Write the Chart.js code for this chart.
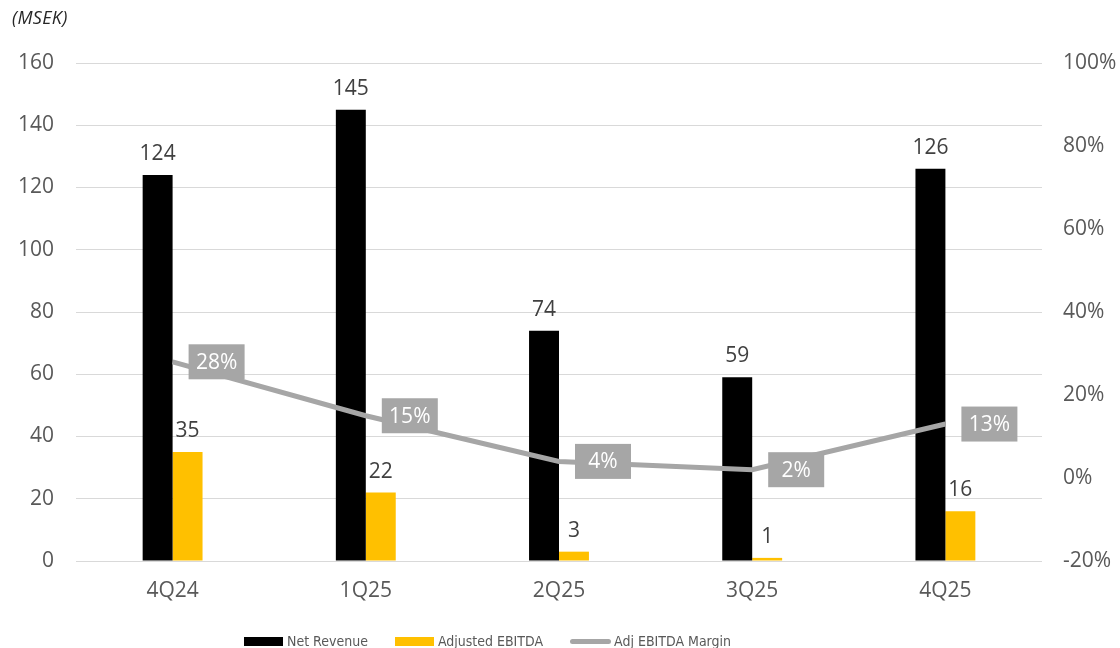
<!DOCTYPE html>
<html>
<head>
<meta charset="utf-8">
<script src="https://cdn.jsdelivr.net/npm/chart.js@4.4.1/dist/chart.umd.min.js"></script>
<style>
  html,body{ margin:0; padding:0; background:#fff; }
  #wrap{ position:relative; width:1120px; height:648px; overflow:hidden; }
  #chart{ position:absolute; left:0; top:0; }
  .unit{ position:absolute; left:12px; top:5px; font:italic 18px "Open Sans", sans-serif; color:#262626; letter-spacing:0.3px; }
  .legend{ position:absolute; left:244px; top:633px; display:flex; align-items:center;
           font:14px "DejaVu Sans Condensed", "DejaVu Sans", sans-serif; color:#595959; white-space:nowrap; }
  .legend-item{ display:flex; align-items:center; margin-right:27px; }
  .legend-box{ display:inline-block; width:39px; height:9px; margin-right:4px; }
  .legend-line{ display:inline-block; width:41px; height:5px; border-radius:3px; margin-right:3px; }
</style>
</head>
<body>
<div id="wrap">
  <canvas id="chart" width="1120" height="648"></canvas>
  <div class="unit">(MSEK)</div>
  <div class="legend" id="legend"></div>
</div>
<script>
// ── DATOS ───────────────────────────────────────────────
const quarters   = ['4Q24','1Q25','2Q25','3Q25','4Q25'];
const netRevenue = [124, 145, 74, 59, 126];
const adjEbitda  = [35, 22, 3, 1, 16];
const ebitdaMargin = [28, 15, 4, 2, 13];   // %
const leftTicks  = [0, 20, 40, 60, 80, 100, 120, 140, 160];
const rightTicks = [-20, 0, 20, 40, 60, 80, 100];

const COLORS = { revenue:'#000000', ebitda:'#ffc000', margin:'#a6a6a6', text:'#595959', grid:'#d9d9d9' };
const TICK_FONT = { family:'"Open Sans", sans-serif', size:21 };

// ── ETIQUETAS DE VALOR ──────────────────────────────────
const valueLabels = {
  id:'valueLabels',
  afterDatasetsDraw(chart){
    const ctx = chart.ctx;
    ctx.save();
    chart.data.datasets.forEach((ds,i)=>{
      const meta = chart.getDatasetMeta(i);
      meta.data.forEach((el,j)=>{
        if(ds.type==='line'){
          const w=56, h=35, cx=el.x+44, cy=el.y;
          ctx.fillStyle = COLORS.margin;
          ctx.fillRect(cx-w/2, cy-h/2, w, h);
          ctx.fillStyle = '#ffffff';
          ctx.font = '21px "Open Sans", sans-serif';
          ctx.textAlign = 'center';
          ctx.textBaseline = 'middle';
          ctx.fillText(ds.data[j]+'%', cx, cy+1);
        } else {
          ctx.fillStyle = '#404040';
          ctx.font = '21px "Open Sans", sans-serif';
          ctx.textAlign = 'center';
          ctx.textBaseline = 'alphabetic';
          ctx.fillText(String(ds.data[j]), el.x, el.y-15);
        }
      });
    });
    ctx.restore();
  }
};

// ── GRÁFICO ─────────────────────────────────────────────
new Chart(document.getElementById('chart'), {
  type:'bar',
  data:{
    labels: quarters,
    datasets:[
      { label:'Net Revenue', data:netRevenue, backgroundColor:COLORS.revenue, yAxisID:'y',
        categoryPercentage:0.31, barPercentage:1, order:2 },
      { label:'Adjusted EBITDA', data:adjEbitda, backgroundColor:COLORS.ebitda, yAxisID:'y',
        categoryPercentage:0.31, barPercentage:1, order:2 },
      { type:'line', label:'Adj EBITDA Margin', data:ebitdaMargin, yAxisID:'y1',
        borderColor:COLORS.margin, borderWidth:5, pointRadius:0, tension:0, order:1 }
    ]
  },
  options:{
    responsive:false,
    animation:false,
    layout:{ padding:{ top:63, left:0, right:0, bottom:0 } },
    plugins:{ legend:{ display:false }, tooltip:{ enabled:false } },
    scales:{
      x:{
        grid:{ display:false, drawTicks:false },
        border:{ display:false },
        ticks:{ color:COLORS.text, font:TICK_FONT, padding:17 },
        afterFit(s){ s.height = 87; }
      },
      y:{
        position:'left', min:0, max:160,
        afterBuildTicks(s){ s.ticks = leftTicks.map(v=>({ value:v })); },
        grid:{ color:COLORS.grid, lineWidth:1, drawTicks:false },
        border:{ display:false },
        ticks:{ color:COLORS.text, font:TICK_FONT, padding:22 },
        afterFit(s){ s.width = 76; }
      },
      y1:{
        position:'right', min:-20, max:100,
        afterBuildTicks(s){ s.ticks = rightTicks.map(v=>({ value:v })); },
        grid:{ display:false, drawTicks:false },
        border:{ display:false },
        ticks:{ color:COLORS.text, font:TICK_FONT, padding:21, callback:v=>v+'%' },
        afterFit(s){ s.width = 78; }
      }
    }
  },
  plugins:[valueLabels]
});

// ── LEYENDA ─────────────────────────────────────────────
const legendItems = [
  { label:'Net Revenue', color:COLORS.revenue, cls:'legend-box' },
  { label:'Adjusted EBITDA', color:COLORS.ebitda, cls:'legend-box' },
  { label:'Adj EBITDA Margin', color:COLORS.margin, cls:'legend-line' },
];
document.getElementById('legend').innerHTML = legendItems.map(it=>`
  <div class="legend-item"><span class="${it.cls}" style="background:${it.color}"></span>${it.label}</div>
`).join('');
</script>
</body>
</html>
